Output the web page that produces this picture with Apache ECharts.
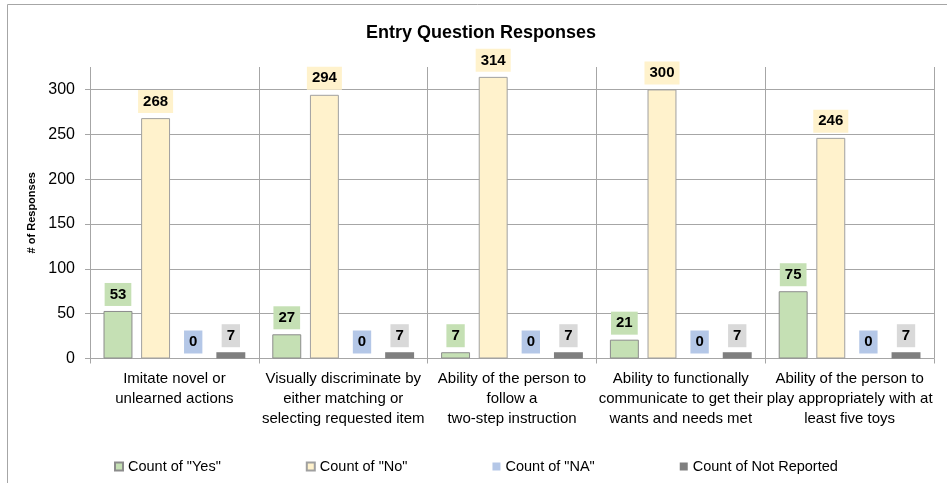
<!DOCTYPE html>
<html>
<head>
<meta charset="utf-8">
<title>Entry Question Responses</title>
<script src="https://cdn.jsdelivr.net/npm/echarts@6/dist/echarts.min.js"></script>
<style>
  html, body { margin: 0; padding: 0; background: #fff; }
  #mychart { width: 947px; height: 483px; }
</style>
</head>
<body>
<div id="mychart"></div>
<script>
  // categories (line breaks as in the picture)
  const categories = [
    'Imitate novel or\nunlearned actions',
    'Visually discriminate by\neither matching or\nselecting requested item',
    'Ability of the person to\nfollow a\ntwo-step instruction',
    'Ability to functionally\ncommunicate to get their\nwants and needs met',
    'Ability of the person to\nplay appropriately with at\nleast five toys'
  ]
  const countYes = [53, 27, 7, 21, 75]
  const countNo = [268, 294, 314, 300, 246]
  const countNA = [0, 0, 0, 0, 0]
  const countNotReported = [7, 7, 7, 7, 7]
  const yTicks = [0, 50, 100, 150, 200, 250, 300]

  const font = 'Liberation Sans, Arial, sans-serif'
  const gridColor = '#a6a6a6'

  // one bar series, label box takes a background colour
  function makeSeries(name, data, fill, labelBg, border) {
    return {
      name: name,
      type: 'bar',
      data: data,
      barCategoryGap: '16%',
      barGap: '30%',
      itemStyle: {
        color: fill,
        borderColor: border,
        borderWidth: border ? 1 : 0
      },
      label: {
        show: true,
        position: 'top',
        distance: 5,
        fontFamily: font,
        fontSize: 15,
        fontWeight: 'bold',
        color: '#000',
        lineHeight: 15,
        backgroundColor: labelBg,
        padding: [4, 5]
      }
    }
  }

  const myChart = echarts.init(document.getElementById('mychart'))
  const option = {
    animation: false,
    textStyle: { fontFamily: font },
    title: {
      text: 'Entry Question Responses',
      left: 476,
      top: 19,
      textAlign: 'center',
      textStyle: { fontFamily: font, fontSize: 18, fontWeight: 'bold', color: '#000' }
    },
    // chart frame, cut by the picture on the right and bottom
    graphic: [
      {
        type: 'rect',
        z: -1,
        shape: { x: 7.5, y: 4.5, width: 2000, height: 2000 },
        style: { fill: 'none', stroke: gridColor, lineWidth: 1 }
      }
    ],
    legend: {
      left: 114,
      top: 459,
      padding: 0,
      icon: 'rect',
      itemWidth: 8,
      itemHeight: 8,
      itemGap: 85,
      textStyle: { fontFamily: font, fontSize: 14.5, color: '#000' }
    },
    grid: {
      left: 90,
      right: 13,
      top: 67,
      bottom: 124.5
    },
    xAxis: {
      type: 'category',
      data: categories,
      axisLine: { show: true, lineStyle: { color: gridColor } },
      axisTick: { show: true, length: 5, interval: 0, lineStyle: { color: gridColor } },
      splitLine: { show: true, interval: 0, lineStyle: { color: gridColor } },
      axisLabel: {
        interval: 0,
        margin: 10,
        fontFamily: font,
        fontSize: 15,
        lineHeight: 20,
        color: '#000'
      }
    },
    yAxis: {
      type: 'value',
      min: 0,
      max: 325,
      interval: 50,
      name: '# of Responses',
      nameLocation: 'middle',
      nameRotate: 90,
      nameGap: 42,
      nameTextStyle: { fontFamily: font, fontSize: 11, fontWeight: 'bold', color: '#000' },
      axisLine: { show: false },
      axisTick: { show: true, length: 5, customValues: yTicks, lineStyle: { color: gridColor } },
      axisLabel: {
        customValues: yTicks,
        margin: 15,
        fontFamily: font,
        fontSize: 16,
        color: '#000'
      },
      splitLine: { show: true, lineStyle: { color: gridColor } }
    },
    series: [
      makeSeries('Count of "Yes"', countYes, '#c5e0b4', '#c5e0b4', '#8c8c8c'),
      makeSeries('Count of "No"', countNo, '#fff2cc', '#fff2cc', '#a0a0a0'),
      makeSeries('Count of "NA"', countNA, '#b4c7e7', '#b4c7e7', null),
      makeSeries('Count of Not Reported', countNotReported, '#7f7f7f', '#d9d9d9', null)
    ]
  }
  myChart.setOption(option)
</script>
</body>
</html>
